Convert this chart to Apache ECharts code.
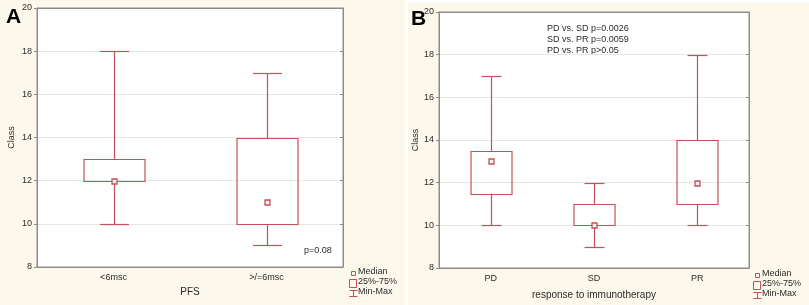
<!DOCTYPE html>
<html>
<head>
<meta charset="utf-8">
<script src="https://cdn.jsdelivr.net/npm/echarts@6/dist/echarts.min.js"></script>
<style>
  html, body { margin: 0; padding: 0; background: #fff; }
  #chart { width: 809px; height: 305px; }
</style>
</head>
<body>
<div id="chart"></div>
<script>
// panel A: PFS groups
const pfsGroups = ['<6msc', '>/=6msc'];
const pfsMin = [10, 9];
const pfsQ1 = [12, 10];
const pfsMedian = [12, 11];
const pfsQ3 = [13, 14];
const pfsMax = [18, 17];

// panel B: response to immunotherapy
const respGroups = ['PD', 'SD', 'PR'];
const respMin = [10, 9, 10];
const respQ1 = [11.5, 10, 11];
const respMedian = [13, 10, 12];
const respQ3 = [13.5, 11, 14];
const respMax = [17, 12, 18];

const yMin = 8, yMax = 20, yStep = 2;
const pvalA = 'p=0.08';
const pvalB = ['PD vs. SD p=0.0026', 'SD vs. PR p=0.0059', 'PD vs. PR p>0.05'];

const RED = '#c4505c';
const GRAY = '#8c8c8c';
const TXT = '#2a2a2a';
const FONT = 'Arial, "Liberation Sans", sans-serif';
const CREAM = '#fdf8ec';

function rows(mins, q1s, meds, q3s, maxs) {
  return mins.map((m, i) => [i, m, q1s[i], meds[i], q3s[i], maxs[i]]);
}

function px(v) { return Math.round(v) + 0.5; }

function renderBox(params, api) {
  const i = api.value(0);
  const yMinP = api.coord([i, api.value(1)])[1];
  const yQ1 = api.coord([i, api.value(2)])[1];
  const yMed = api.coord([i, api.value(3)])[1];
  const yQ3 = api.coord([i, api.value(4)])[1];
  const yMaxP = api.coord([i, api.value(5)])[1];
  const cx = px(api.coord([i, api.value(1)])[0]);
  const band = api.size([1, 0])[0];
  const bw = Math.round(band * 0.4), cw = Math.round(band * 0.19);
  const st = { stroke: RED, fill: 'none', lineWidth: 1.2 };
  const seg = (x1, y1, x2, y2) => ({ type: 'line', shape: { x1, y1, x2, y2 }, style: Object.assign({}, st) });
  return {
    type: 'group',
    children: [
      seg(cx, px(yMaxP), cx, px(yQ3)),
      seg(cx, px(yQ1), cx, px(yMinP)),
      seg(cx - cw / 2, px(yMaxP), cx + cw / 2, px(yMaxP)),
      seg(cx - cw / 2, px(yMinP), cx + cw / 2, px(yMinP)),
      { type: 'rect', shape: { x: cx - bw / 2, y: px(yQ3), width: bw, height: Math.round(yQ1 - yQ3) },
        style: Object.assign({}, st) },
      { type: 'rect', shape: { x: cx - 2.5, y: px(yMed) - 2.5, width: 5, height: 5 },
        style: { stroke: RED, fill: '#fbeef0', lineWidth: 1.3 } }
    ]
  };
}

function bottomAxis(gridIndex, cats, name, gap) {
  return {
    type: 'category', gridIndex, data: cats, position: 'bottom',
    name, nameLocation: 'middle', nameGap: gap,
    nameTextStyle: { fontSize: 10, color: TXT, fontFamily: FONT },
    axisLine: { lineStyle: { color: GRAY } },
    axisTick: { alignWithLabel: true, length: 3, lineStyle: { color: GRAY } },
    axisLabel: { fontSize: 9, color: TXT, fontFamily: FONT, margin: 6 },
    splitLine: { show: false }
  };
}
function topAxis(gridIndex, cats) {
  return {
    type: 'category', gridIndex, data: cats, position: 'top',
    axisLine: { lineStyle: { color: GRAY } },
    axisTick: { alignWithLabel: true, inside: true, length: 3, lineStyle: { color: GRAY } },
    axisLabel: { show: false }, splitLine: { show: false }
  };
}
function leftAxis(gridIndex, gap) {
  return {
    type: 'value', gridIndex, position: 'left', min: yMin, max: yMax, interval: yStep,
    name: 'Class', nameLocation: 'middle', nameGap: gap, nameRotate: 90,
    nameTextStyle: { fontSize: 9, color: TXT, fontFamily: FONT },
    axisLine: { show: true, lineStyle: { color: GRAY } },
    axisTick: { show: true, length: 3, lineStyle: { color: GRAY } },
    axisLabel: { fontSize: 9, color: TXT, fontFamily: FONT, margin: 5 },
    splitLine: { show: true, lineStyle: { color: '#e6e6e6' } }
  };
}
function rightAxis(gridIndex) {
  return {
    type: 'value', gridIndex, position: 'right', min: yMin, max: yMax, interval: yStep,
    axisLine: { show: true, lineStyle: { color: GRAY } },
    axisTick: { show: true, inside: true, length: 3, lineStyle: { color: GRAY } },
    axisLabel: { show: false }, splitLine: { show: false }
  };
}

function legendItems(x, y0) {
  const t = (txt, y) => ({ type: 'text', left: x + 11, top: y,
    style: { text: txt, fontSize: 9, fill: TXT, fontFamily: FONT } });
  return [
    { type: 'rect', left: x + 2, top: y0 + 2, shape: { width: 4, height: 4 },
      style: { stroke: RED, fill: 'none', lineWidth: 1 } },
    t('Median', y0),
    { type: 'rect', left: x, top: y0 + 10, shape: { width: 7, height: 8 },
      style: { stroke: RED, fill: 'none', lineWidth: 1 } },
    t('25%-75%', y0 + 10),
    { type: 'polyline', left: x, top: y0 + 21,
      shape: { points: [[0, 0], [8, 0], [4, 0], [4, 6], [0, 6], [8, 6]] },
      style: { stroke: RED, fill: 'none', lineWidth: 1 } },
    t('Min-Max', y0 + 20)
  ];
}

const chart = echarts.init(document.getElementById('chart'), null, { renderer: 'canvas' });

chart.setOption({
  backgroundColor: '#fff',
  animation: false,
  grid: [
    { left: 37, top: 8, width: 306, height: 259, show: true, backgroundColor: '#fff', borderColor: GRAY },
    { left: 439, top: 12, width: 310, height: 256, show: true, backgroundColor: '#fff', borderColor: GRAY }
  ],
  xAxis: [
    bottomAxis(0, pfsGroups, 'PFS', 20),
    topAxis(0, pfsGroups),
    bottomAxis(1, respGroups, 'response to immunotherapy', 22),
    topAxis(1, respGroups)
  ],
  yAxis: [leftAxis(0, 21), rightAxis(0), leftAxis(1, 19), rightAxis(1)],
  series: [
    { type: 'custom', xAxisIndex: 0, yAxisIndex: 0, renderItem: renderBox,
      encode: { x: 0, y: [1, 2, 3, 4, 5] },
      data: rows(pfsMin, pfsQ1, pfsMedian, pfsQ3, pfsMax) },
    { type: 'custom', xAxisIndex: 2, yAxisIndex: 2, renderItem: renderBox,
      encode: { x: 0, y: [1, 2, 3, 4, 5] },
      data: rows(respMin, respQ1, respMedian, respQ3, respMax) }
  ],
  graphic: [
    { type: 'rect', left: 0, top: 0, z: -10, shape: { width: 405, height: 305 }, style: { fill: CREAM } },
    { type: 'rect', left: 408, top: 3, z: -10, shape: { width: 401, height: 302 }, style: { fill: CREAM } },
    { type: 'text', left: 6, top: 7, style: { text: 'A', fontSize: 21, fontWeight: 'bold', fill: '#000', fontFamily: FONT } },
    { type: 'text', left: 411, top: 9, style: { text: 'B', fontSize: 21, fontWeight: 'bold', fill: '#000', fontFamily: FONT } },
    { type: 'text', left: 304, top: 246, style: { text: pvalA, fontSize: 9, fill: TXT, fontFamily: FONT } },
    { type: 'text', left: 547, top: 23, style: { text: pvalB.join('\n'), fontSize: 9, lineHeight: 11, fill: TXT, fontFamily: FONT } }
  ].concat(legendItems(347, 267), legendItems(751, 269))
});
</script>
</body>
</html>
